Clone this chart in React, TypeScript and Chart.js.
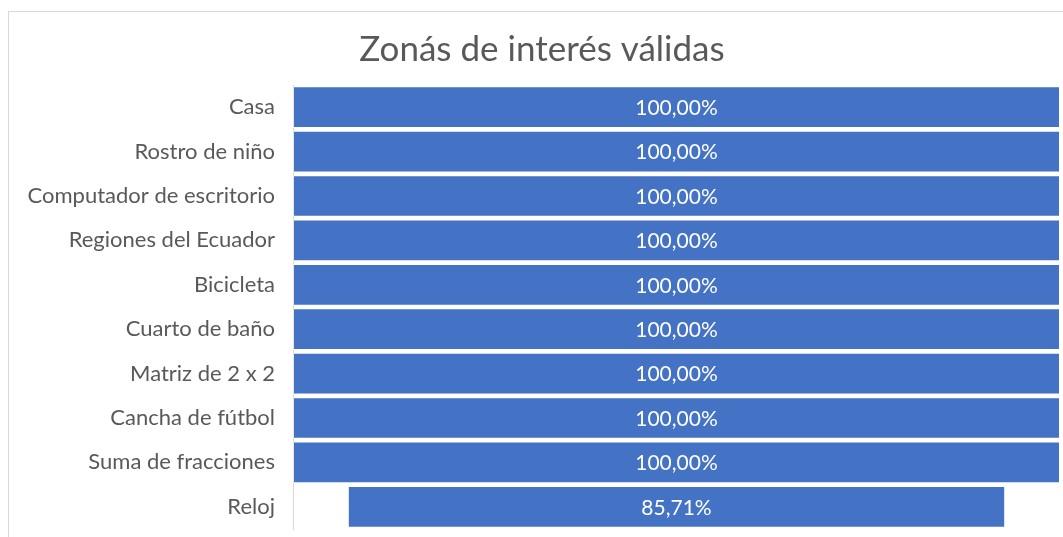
import React, { useEffect, useRef } from "react";
import { Chart, registerables } from "chart.js";

Chart.register(...registerables);

const titleText = "Zonás de interés válidas";
const categories = [
  "Casa",
  "Rostro de niño",
  "Computador de escritorio",
  "Regiones del Ecuador",
  "Bicicleta",
  "Cuarto de baño",
  "Matriz de 2 x 2",
  "Cancha de fútbol",
  "Suma de fracciones",
  "Reloj",
];
const values = [100, 100, 100, 100, 100, 100, 100, 100, 100, 85.71];

const FONT = "Lato, 'Open Sans', sans-serif";

const dataLabelPlugin = {
  id: "funnelLabels",
  afterDatasetsDraw(chart: any) {
    const ctx = chart.ctx;
    const meta = chart.getDatasetMeta(0);
    ctx.save();
    ctx.fillStyle = "#ffffff";
    ctx.font = `21px ${FONT}`;
    ctx.textAlign = "center";
    ctx.textBaseline = "middle";
    meta.data.forEach((el: any, i: number) => {
      const cx = (el.x + el.base) / 2;
      const txt = values[i].toFixed(2).replace(".", ",") + "%";
      ctx.fillText(txt, cx, el.y + 1);
    });
    ctx.restore();
  },
};

export default function App() {
  const ref = useRef<HTMLCanvasElement | null>(null);
  useEffect(() => {
    if (!ref.current) return;
    const chart = new Chart(ref.current, {
      type: "bar",
      data: {
        labels: categories,
        datasets: [
          {
            data: values.map((v) => [(100 - v) / 2, (100 + v) / 2]) as any,
            backgroundColor: "#4472C4",
            borderColor: "rgba(255,255,255,0.35)",
            borderWidth: 1,
            borderSkipped: false,
            barPercentage: 0.94,
            categoryPercentage: 1,
          },
        ],
      },
      options: {
        indexAxis: "y",
        animation: false,
        responsive: false,
        layout: { padding: { left: 24, right: 3, top: 0, bottom: 8 } },
        plugins: {
          legend: { display: false },
          tooltip: { enabled: false },
          title: {
            display: true,
            text: titleText,
            color: "#595959",
            font: { family: FONT, size: 35, weight: "normal", lineHeight: 1.2 },
            padding: { top: 29, bottom: 14 },
          },
        },
        scales: {
          x: { display: false, min: 0, max: 100 },
          y: {
            afterFit: (s: any) => {
              s.width = 269;
              s.paddingTop = 0;
              s.paddingBottom = 0;
            },
            grid: { display: false, drawTicks: false },
            border: { display: true, color: "#d9d9d9", width: 1 },
            ticks: {
              color: "#595959",
              padding: 18,
              font: { family: FONT, size: 22 },
            },
          },
        },
      },
      plugins: [dataLabelPlugin],
    });
    return () => chart.destroy();
  }, []);

  return (
    <div
      style={{
        position: "absolute",
        left: 0,
        top: 0,
        width: 1063,
        height: 537,
        overflow: "hidden",
        background: "#fff",
      }}
    >
      <div
        style={{
          position: "absolute",
          left: 8,
          top: 11,
          width: 1100,
          height: 600,
          border: "1px solid #d9d9d9",
        }}
      />
      <canvas
        ref={ref}
        width={1063}
        height={537}
        style={{ position: "absolute", left: 0, top: 0, width: 1063, height: 537 }}
      />
    </div>
  );
}
